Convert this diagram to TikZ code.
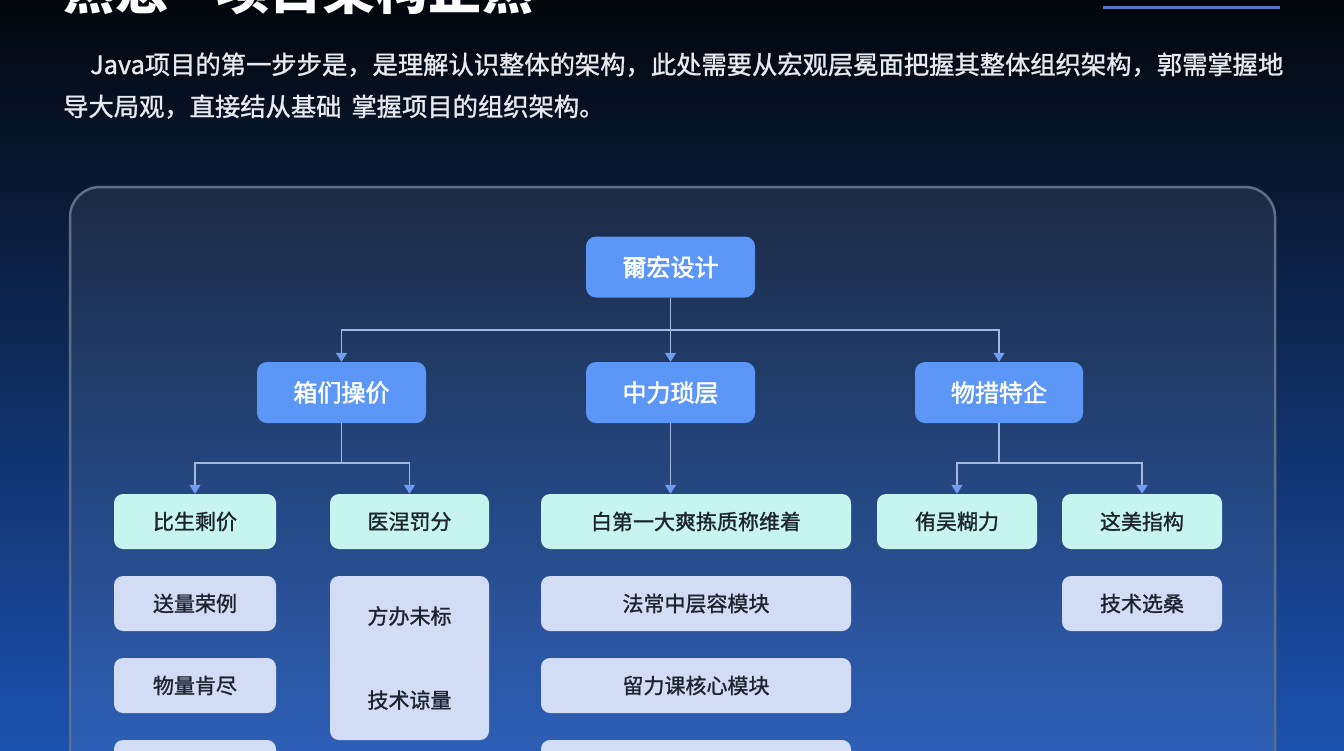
\documentclass[tikz,border=0pt]{standalone}
\usepackage{fontspec}
\setmainfont{Noto Sans CJK SC}
\newfontfamily\medfont{Noto Sans CJK SC}[FakeBold=2]
\newfontfamily\semifont{Noto Sans CJK SC}[FakeBold=1.2]
\usetikzlibrary{arrows.meta}
\definecolor{bgtop}{HTML}{03060B}
\definecolor{bgmid}{HTML}{0B1E46}
\definecolor{bgbot}{HTML}{1C52B0}
\definecolor{nodeblue}{HTML}{5C96F6}
\definecolor{mint}{HTML}{C8F4F0}
\definecolor{lav}{HTML}{D2DCF4}
\definecolor{darktext}{HTML}{1B2430}
\definecolor{linkc}{HTML}{A3B8DF}
\definecolor{arrowc}{HTML}{6E9DF2}
\definecolor{panelborder}{HTML}{5F6F88}
\definecolor{paratext}{HTML}{E8EAF0}
\tikzset{
  bluebox/.style={rounded corners=10pt, fill=nodeblue, text=white, minimum height=61pt, minimum width=169pt, inner sep=0pt, font=\medfont\fontsize{24}{24}\selectfont},
  mintbox/.style={rounded corners=9pt, fill=mint, text=darktext, minimum height=55pt, inner sep=0pt, font=\semifont\fontsize{21}{21}\selectfont},
  lavbox/.style={rounded corners=9pt, fill=lav, text=darktext, minimum height=55pt, inner sep=0pt, font=\semifont\fontsize{21}{21}\selectfont},
  link/.style={draw=linkc, line width=1.8pt},
  arr/.style={link, -{Triangle[width=11pt,length=9pt,color=arrowc]}},
  para/.style={text=paratext, inner sep=0pt, font=\semifont\fontsize{25.3}{25.3}\selectfont}
}
\begin{document}
\begin{tikzpicture}[x=1pt,y=-1pt]
\useasboundingbox (0,0) rectangle (1344,750);
\clip (0,0) rectangle (1344,750);
% background
\shade[top color=bgtop, middle color=bgmid, bottom color=bgbot] (0,0) rectangle (1344,750);
% header
\node[anchor=base west, text=white, inner sep=0pt, font=\fontsize{53}{53}\selectfont\bfseries] (title) at (62,9) {熟悉—项目架构正熟};
\draw[draw={rgb,255:red,85;green,120;blue,196}, line width=3pt] (1103,7) -- (1280,7);
\node[para, anchor=base west] (p1) at (90,74) {Java项目的第一步步是，是理解认识整体的架构，此处需要从宏观层冕面把握其整体组织架构，郭需掌握地};
\node[para, anchor=base west] (p2) at (63,116) {导大局观，直接结从基础\hspace{10pt}掌握项目的组织架构。};
% panel
\draw[fill=white, fill opacity=0.08, draw=panelborder, line width=2.5pt, rounded corners=30pt] (70,187) rectangle (1275,820);
% level 1
\node[bluebox] (top) at (670.5,267) {爾宏设计};
% level 2
\node[bluebox] (a) at (341.5,392.5) {箱们操价};
\node[bluebox] (b) at (670.5,392.5) {中力琐层};
\node[bluebox, minimum width=168pt] (c) at (999,392.5) {物措特企};
% level 3
\node[mintbox, minimum width=162pt] (a1) at (195,521.5) {比生剩价};
\node[mintbox, minimum width=159pt] (a2) at (409.5,521.5) {医涅罚分};
\node[mintbox, minimum width=310pt] (b1) at (696,521.5) {白第一大爽拣质称维着};
\node[mintbox, minimum width=160pt] (c1) at (957,521.5) {侑吴糊力};
\node[mintbox, minimum width=160pt] (c2) at (1142,521.5) {这美指构};
% level 4
\node[lavbox, minimum width=162pt] (a1x) at (195,603.5) {送量荣例};
\node[lavbox, minimum width=162pt] (a1y) at (195,685.5) {物量肯尽};
\node[lavbox, minimum width=162pt] (a1z) at (195,767.5) {};
\node[lavbox, minimum width=159pt, minimum height=164pt, align=center, font=\semifont\fontsize{21}{84}\selectfont] (a2x) at (409.5,658) {方办未标\\技术谅量};
\node[lavbox, minimum width=310pt] (b1x) at (696,603.5) {法常中层容模块};
\node[lavbox, minimum width=310pt] (b1y) at (696,685.5) {留力课核心模块};
\node[lavbox, minimum width=310pt] (b1z) at (696,767.5) {};
\node[lavbox, minimum width=160pt] (c2x) at (1142,603.5) {技术选桑};
% connectors
\coordinate (j1) at (670.5,330);
\coordinate (ja) at (341.5,463);
\coordinate (jc) at (999,463);
\draw[link] (top) -- (j1);
\draw[arr] (j1) -| (a);
\draw[arr] (j1) -- (b);
\draw[arr] (j1) -| (c);
\draw[link] (a) -- (ja);
\draw[arr] (ja) -| (a1);
\draw[arr] (ja) -| (a2);
\draw[arr] (b.south) -- (b.south |- b1.north);
\draw[link] (c) -- (jc);
\draw[arr] (jc) -| (c1);
\draw[arr] (jc) -| (c2);
\end{tikzpicture}
\end{document}
